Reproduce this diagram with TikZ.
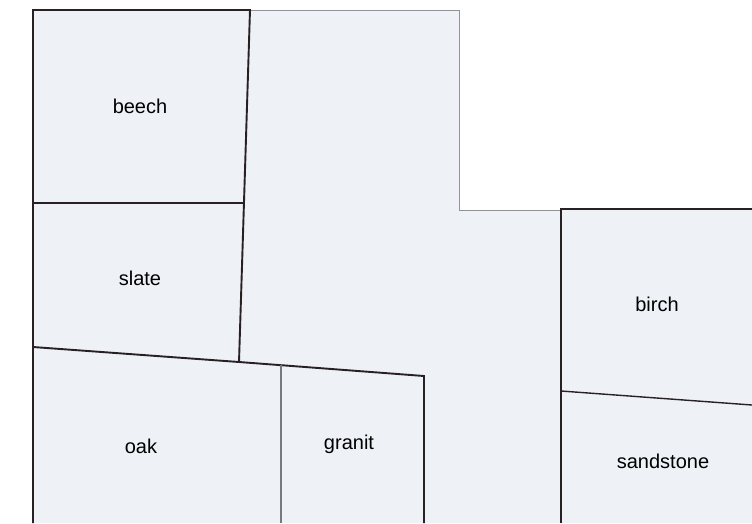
\documentclass[tikz,border=0pt]{standalone}
\usepackage{fontspec}
\setmainfont{Liberation Sans}
\usetikzlibrary{calc}
\definecolor{planfill}{RGB}{238,241,246}
\definecolor{planedge}{RGB}{40,32,34}
\definecolor{planthin}{RGB}{120,120,125}
\tikzset{wall/.style={planedge,line width=1.9pt},
  cut/.style={planthin,line width=1.1pt},
  lbl/.style={font=\fontsize{20}{20}\selectfont,text=black}}

\begin{document}
\begin{tikzpicture}[x=1pt,y=-1pt]
\useasboundingbox[fill=white] (0,0) rectangle (752,523);
% ground plan
\fill[planfill] (33,10)--(459,10)--(459,210)--(752,210)--(752,523)--(33,523)--cycle;
\draw[planthin!80,line width=0.8pt] (250,10)--(459,10)--(459,210)--(561,210);
\coordinate (tl) at (33,10); \coordinate (tr) at (250,10);
\coordinate (ml) at (33,203); \coordinate (mr) at (244,203);
\coordinate (bl) at (33,347); \coordinate (bm) at (239,362);
\coordinate (br) at (424,376); \coordinate (gt) at (281,365);
\draw[wall] (33,523)--(tl)--(tr)--(bm);
\draw[wall] (ml)--(mr);
\draw[wall] (bl)--(bm)--(br)--(424,523);
\draw[cut] (gt)--(281,523);
\coordinate (bt) at (561,209); \coordinate (bs) at (561,391);
\draw[wall] (561,523)--(bt)--(752,209);
\draw[wall,line width=1.4pt] (bs)--(752,405);
% labels
\node[lbl] (beech) at (140,106) {beech};
\node[lbl] (slate) at (140,278) {slate};
\node[lbl] (oak) at (141,446) {oak};
\node[lbl] (granit) at (349,444) {granit};
\node[lbl] (birch) at (657,304) {birch};
\node[lbl] (sandstone) at (663,461) {sandstone};
\end{tikzpicture}
\end{document}
